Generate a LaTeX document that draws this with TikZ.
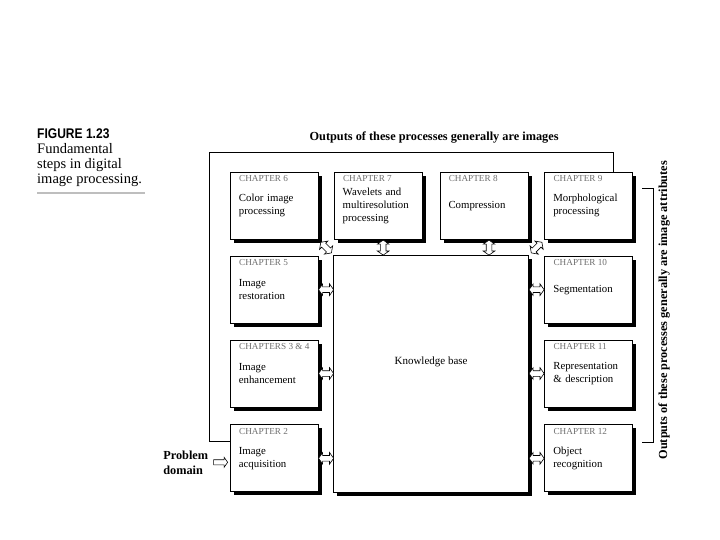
\documentclass[tikz,border=0pt]{standalone}
\usepackage{fontspec}
\setmainfont{Liberation Serif}
\newfontfamily\figfont[FakeStretch=0.86]{Liberation Sans}
\usetikzlibrary{positioning,calc,fit,shadows,shapes.arrows}
\definecolor{chaptergray}{RGB}{110,110,110}
\definecolor{rulegray}{RGB}{190,190,190}

\begin{document}
\begin{tikzpicture}[
    x=1pt, y=-1pt,
    boxshadow/.style={drop shadow={shadow xshift=3.5pt, shadow yshift=-3.5pt, fill=black, opacity=1}},
    box/.style={draw, fill=white, line width=0.8pt, minimum width=88pt, minimum height=67pt, text width=71pt, inner xsep=8.5pt, align=left, boxshadow, font=\fontsize{10.8}{13}\selectfont},
    kbbox/.style={draw, fill=white, line width=0.8pt, inner sep=0pt, boxshadow},
    chap/.style={anchor=north west, xshift=9pt, yshift=-3.5pt, inner sep=0pt, text=chaptergray, font=\fontsize{9.2}{10}\selectfont},
    hollow/.style={double arrow, draw, fill=white, line width=0.6pt, inner xsep=0pt, inner ysep=2.5pt, minimum height=15pt, double arrow head extend=3pt, double arrow tip angle=110},
    hollowone/.style={single arrow, draw, fill=white, line width=0.6pt, inner xsep=0pt, inner ysep=2.25pt, minimum height=14pt, single arrow head extend=2.5pt, single arrow tip angle=110},
    outlabel/.style={inner sep=0pt, font=\bfseries\fontsize{12.3}{15}\selectfont},
    feedback/.style={line width=0.8pt}
]
\useasboundingbox (0,0) rectangle (720,540);

% caption
\node[anchor=north west, align=left, inner sep=0pt, font=\fontsize{14.5}{15}\selectfont] (caption) at (37,129)
    {{\figfont\bfseries\fontsize{14}{15}\selectfont FIGURE 1.23}\\Fundamental\\steps in digital\\image processing.};
\draw[rulegray, line width=2pt] (37,193) -- (145,193);

% processing steps
\node[box, anchor=north west, label={[chap]north west:CHAPTER 6}] (c6) at (230,172) {Color image\\processing};
\node[box, right=15pt of c6, label={[chap]north west:CHAPTER 7}] (c7) {Wavelets and\\multiresolution\\processing};
\node[box, right=17pt of c7, label={[chap]north west:CHAPTER 8}] (c8) {Compression};
\node[box, right=16pt of c8, label={[chap]north west:CHAPTER 9}] (c9) {Morphological\\processing};
\node[box, below=16pt of c6, label={[chap]north west:CHAPTER 5}] (c5) {Image\\restoration};
\node[box, below=16pt of c5, label={[chap]north west:CHAPTERS 3 \& 4}] (c34) {Image\\enhancement};
\node[box, below=17pt of c34, label={[chap]north west:CHAPTER 2}] (c2) {Image\\acquisition};
\node[box, below=16pt of c9, label={[chap]north west:CHAPTER 10}] (c10) {Segmentation};
\node[box, below=16pt of c10, label={[chap]north west:CHAPTER 11}] (c11) {Representation\\\& description};
\node[box, below=17pt of c11, label={[chap]north west:CHAPTER 12}] (c12) {Object\\recognition};

\node[kbbox, fit=(c5.north -| c7.west) (c2.south -| c8.east),
    label={[yshift=12pt, font=\fontsize{11}{13}\selectfont]center:Knowledge base}] (kb) {};

% links to the knowledge base
\node[hollow] (a5) at ($(c5.east)!0.5!(c5.east -| kb.west)$) {};
\node[hollow] (a34) at ($(c34.east)!0.5!(c34.east -| kb.west)$) {};
\node[hollow] (a2) at ($(c2.east)!0.5!(c2.east -| kb.west)$) {};
\node[hollow] (a10) at ($(c10.west)!0.5!(c10.west -| kb.east)$) {};
\node[hollow] (a11) at ($(c11.west)!0.5!(c11.west -| kb.east)$) {};
\node[hollow] (a12) at ($(c12.west)!0.5!(c12.west -| kb.east)$) {};
\node[hollow, rotate=90] (a7) at ($(c7.south)!0.5!(c7.south |- kb.north)+(5,0)$) {};
\node[hollow, rotate=90] (a8) at ($(c8.south)!0.5!(c8.south |- kb.north)+(5,0)$) {};
\node[hollow, rotate=-45] (a6) at ($(c6.south east)!0.5!(kb.north west)$) {};
\node[hollow, rotate=45] (a9) at ($(c9.south west)!0.5!(kb.north east)$) {};

% problem domain
\node[hollowone, left=2pt of c2.west, yshift=-4pt] (apd) {};
\node[outlabel, align=left, left=5pt of apd] (pd) {Problem\\domain};

% outputs
\coordinate[above left=20pt and 21pt of c6.north west] (fbcorner);
\draw[feedback] ([yshift=16.5pt]c2.west) -| (fbcorner) -| ([xshift=25pt]c9.north);
\node[outlabel] (toplabel) at ($(fbcorner -| kb.north)+(3,-14)$) {Outputs of these processes generally are images};

\coordinate (brtop) at ([xshift=9pt, yshift=-16pt]c9.north east);
\coordinate (brbot) at ([xshift=9pt, yshift=-18pt]c12.north east);
\draw[feedback] (brtop) -- ++(11,0) |- (brbot);
\node[outlabel, rotate=90] (sidelabel) at ($(brtop)!0.5!(brbot)+(22,-5)$) {Outputs of these processes generally are image attributes};
\end{tikzpicture}
\end{document}
